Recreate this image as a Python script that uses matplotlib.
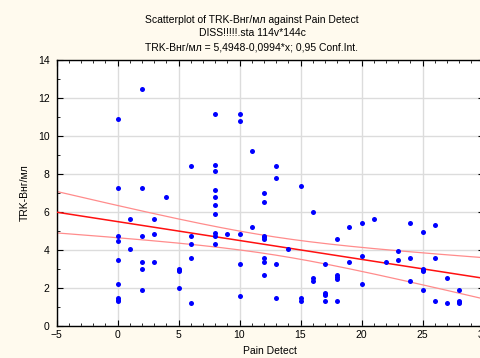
import numpy as np
import matplotlib
matplotlib.use("Agg")
import matplotlib.pyplot as plt
from matplotlib.ticker import MultipleLocator

plt.rcParams['font.family'] = ['Liberation Sans', 'DejaVu Sans']

# Pain Detect score -> TRK-B values
pain = [0]*9 + [1]*2 + [2]*6 + [3]*3 + [4] + [5]*4 + [6]*5 + [8]*10 + [9] \
    + [10]*5 + [11]*2 + [12]*8 + [13]*4 + [14] + [15]*3 + [16]*3 + [17]*5 \
    + [18]*5 + [19]*2 + [20]*3 + [21] + [22] + [23]*2 + [24]*3 + [25]*5 \
    + [26]*3 + [27]*2 + [28]*4
trkb = [10.9, 7.25, 4.75, 4.5, 3.45, 2.2, 1.45, 1.35, 1.3,
        5.65, 4.05,
        12.5, 7.25, 4.75, 3.35, 3.0, 1.9,
        5.65, 4.85, 3.35,
        6.8,
        3.0, 2.95, 2.9, 2.0,
        8.4, 4.75, 4.3, 3.6, 1.2,
        11.15, 8.5, 8.15, 7.15, 6.8, 6.35, 5.9, 4.9, 4.75, 4.3,
        4.85,
        11.15, 10.8, 4.85, 3.25, 1.6,
        9.2, 5.2,
        7.0, 6.55, 4.75, 4.7, 4.6, 3.6, 3.35, 2.7,
        8.4, 7.8, 3.25, 1.5,
        4.05,
        7.35, 1.5, 1.3,
        6.0, 2.55, 2.35,
        3.25, 1.75, 1.68, 1.62, 1.3,
        4.6, 2.7, 2.6, 2.5, 1.3,
        5.2, 3.35,
        5.4, 3.7, 2.2,
        5.65,
        3.35,
        3.95, 3.45,
        5.4, 3.6, 2.35,
        4.95, 3.0, 2.95, 2.9, 1.9,
        5.3, 3.6, 1.3,
        2.55, 1.2,
        1.9, 1.3, 1.25, 1.2]

# fit reported in the chart header
intercept = 5.4948
slope = -0.0994

x = np.array(pain, dtype=float)
y = np.array(trkb)
n = len(x)
resid = y - (intercept + slope * x)
s = np.sqrt(np.sum(resid**2) / (n - 2))
sxx = np.sum((x - x.mean())**2)
t = 1.98

xs = np.linspace(-5, 30, 200)
fit = intercept + slope * xs
half = t * s * np.sqrt(1.0 / n + (xs - x.mean())**2 / sxx)

fig = plt.figure(figsize=(4.81, 3.58), dpi=100, facecolor='#fffaee')
ax = fig.add_axes([56.5 / 481, 1 - 326 / 358, 427 / 481, 266 / 358])
ax.set_facecolor('white')

ax.plot(xs, fit + half, color='#ff8c8c', lw=0.9, zorder=2)
ax.plot(xs, fit - half, color='#ff8c8c', lw=0.9, zorder=2)
ax.plot(xs, fit, color='#ff1010', lw=1.1, zorder=3)
ax.plot(x, y, 'o', color='#0000ff', ms=3.6, mec='none', zorder=4)

ax.set_xlim(-5, 30)
ax.set_ylim(0, 14)
ax.xaxis.set_major_locator(MultipleLocator(5))
ax.xaxis.set_minor_locator(MultipleLocator(1))
ax.yaxis.set_major_locator(MultipleLocator(2))
ax.yaxis.set_minor_locator(MultipleLocator(1))
ax.grid(True, which='major', color='#dcdcdc', lw=1.0)
ax.set_axisbelow(True)
ax.tick_params(which='both', direction='in', top=True, right=True,
               labelsize=7.5)
ax.tick_params(axis='x', pad=3)
ax.tick_params(axis='y', pad=5)
ax.tick_params(which='major', length=4)
ax.tick_params(which='minor', length=2.5)
for sp in ax.spines.values():
    sp.set_linewidth(1.0)

ax.set_xlabel('Pain Detect', fontsize=7.5, labelpad=4)
ax.set_ylabel('TRK-Bнг/мл', fontsize=7.5, labelpad=6)

fig.text(252 / 481, 1 - 20 / 358, 'Scatterplot of TRK-Bнг/мл against Pain Detect',
         ha='center', va='center', fontsize=7.5)
fig.text(252 / 481, 1 - 33 / 358, 'DISS!!!!!.sta 114v*144c',
         ha='center', va='center', fontsize=7.5)
fig.text(252 / 481, 1 - 47 / 358, 'TRK-Bнг/мл = 5,4948-0,0994*x; 0,95 Conf.Int.',
         ha='center', va='center', fontsize=7.5)

fig.savefig('out.png', dpi=100, facecolor=fig.get_facecolor())
